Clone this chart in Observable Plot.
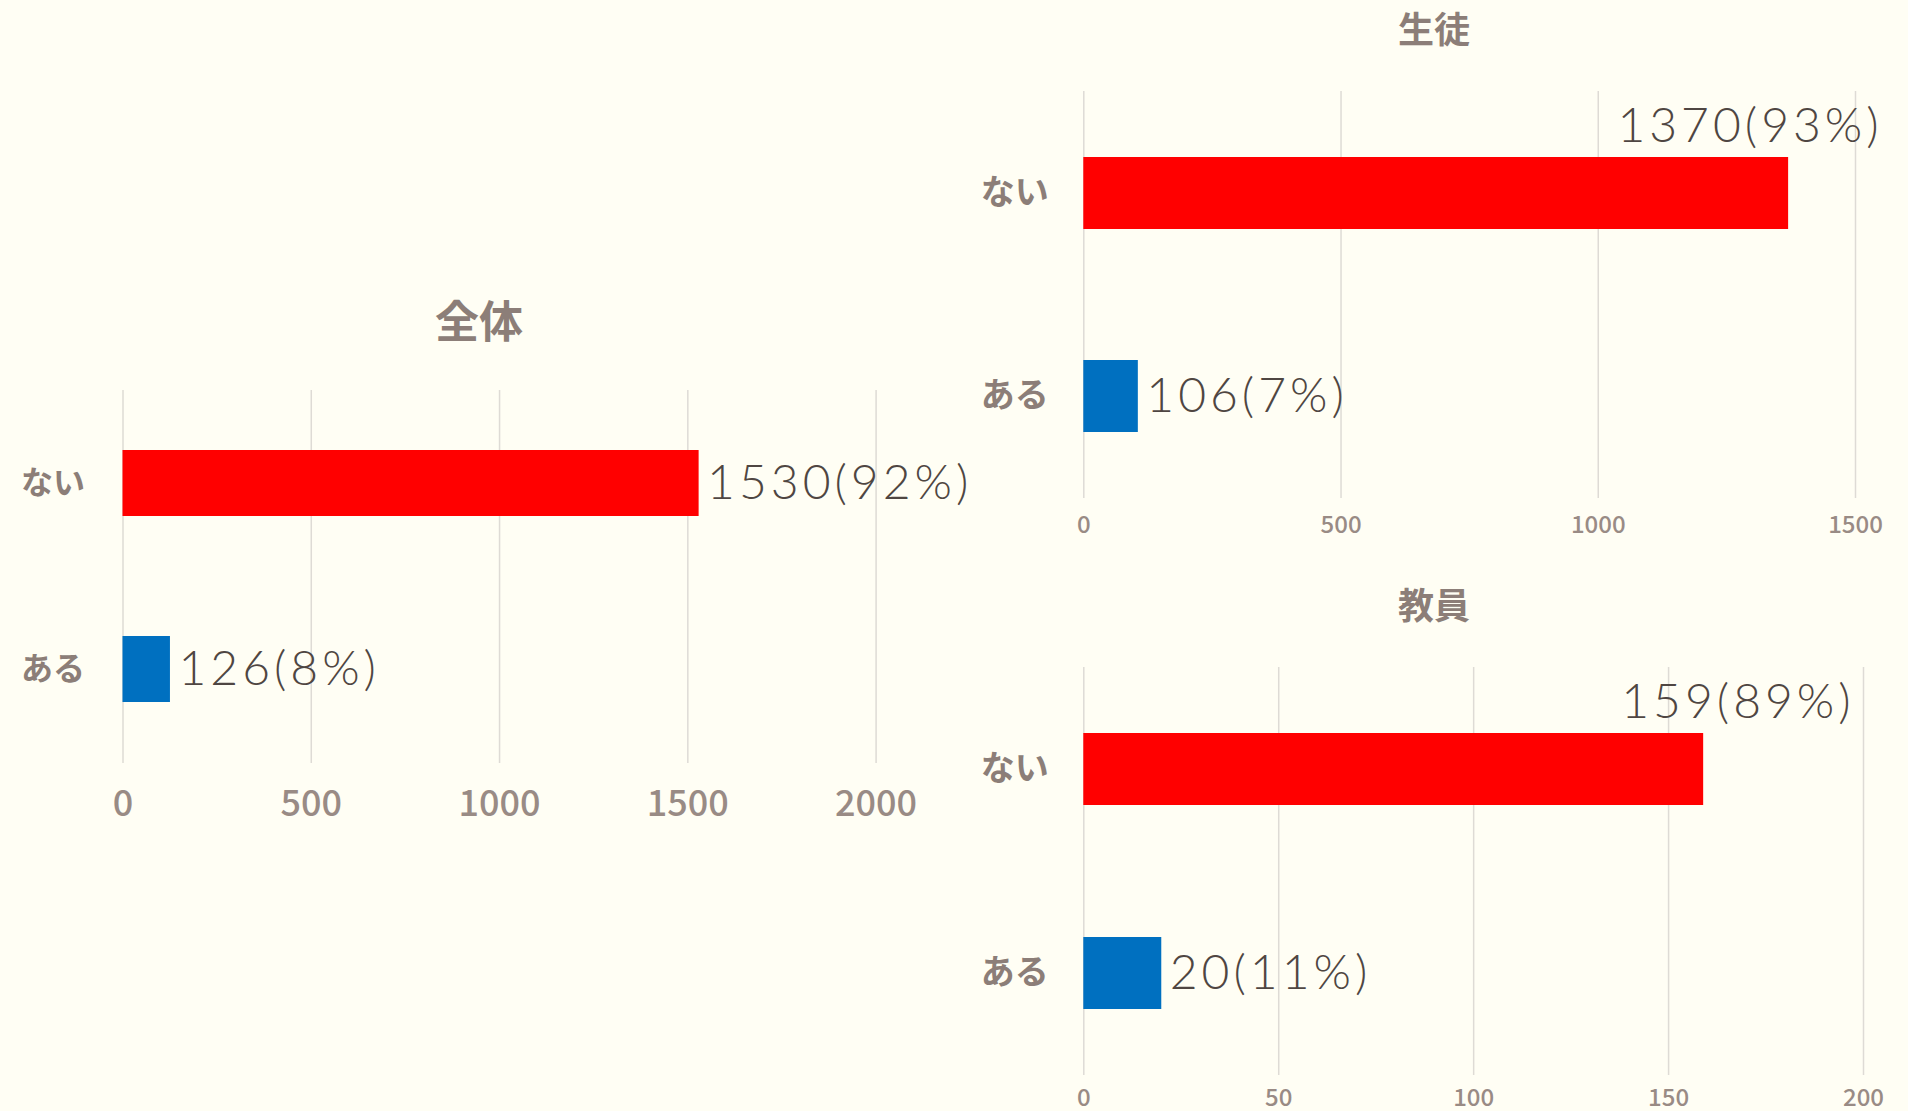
<!DOCTYPE html>
<html>
<head>
<meta charset="utf-8">
<script src="https://cdn.jsdelivr.net/npm/d3@7"></script>
<script src="https://cdn.jsdelivr.net/npm/@observablehq/plot@0.6"></script>
<style>
  html, body { margin: 0; padding: 0; background: #fffef4; }
  #page { position: relative; width: 1908px; height: 1111px; overflow: hidden; background: #fffef4; }
  .title { position: absolute; text-align: center; font-family: "Noto Sans CJK JP", sans-serif; font-weight: 700; color: #8c7e78; line-height: 1; }
  .panel { position: absolute; }
  .panel svg { background: transparent; overflow: visible; }
  g[aria-label="text"] text { letter-spacing: 4px; }
</style>
</head>
<body>
<div id="page"></div>
<script>
const categories = ["ない", "ある"];
const colors = ["#ff0000", "#0070c0"];
const titles = ["全体", "生徒", "教員"];

const totalValues = [1530, 126];
const totalPct = [92, 8];
const totalTicks = [0, 500, 1000, 1500, 2000];

const studentValues = [1370, 106];
const studentPct = [93, 7];
const studentTicks = [0, 500, 1000, 1500];

const teacherValues = [159, 20];
const teacherPct = [89, 11];
const teacherTicks = [0, 50, 100, 150, 200];

const page = document.getElementById("page");

function rows(values, pct) {
  return categories.map((c, i) => ({cat: c, value: values[i], pct: pct[i]}));
}
const label = d => `${d.value}(${d.pct}%)`;

function addTitle(text, left, width, top, size) {
  const t = document.createElement("div");
  t.className = "title";
  t.textContent = text;
  Object.assign(t.style, {left: left + "px", width: width + "px", top: top + "px", fontSize: size + "px"});
  page.appendChild(t);
}

function panel(cfg) {
  const data = rows(cfg.values, cfg.pct);
  const textFont = "Lato, 'Noto Sans', sans-serif";
  const marks = [
    Plot.gridX(cfg.ticks, {stroke: "#dedbd5", strokeOpacity: 1, strokeWidth: 1.5}),
    Plot.barX(data, {x: "value", y: "cat", fill: "cat"}),
    Plot.axisX({ticks: cfg.ticks, tickSize: 0, tickPadding: cfg.tickPadding, fontSize: cfg.tickSize, label: null,
      fill: "#998b85", fontWeight: 500, fontFamily: "'Noto Sans CJK JP', sans-serif", tickFormat: d => String(d)}),
    Plot.axisY({tickSize: 0, tickPadding: cfg.catPadding, fontSize: cfg.catSize, fill: "#8c7e78", label: null,
      fontWeight: 700, fontFamily: "'Noto Sans CJK JP', sans-serif"})
  ];
  if (cfg.aboveDx != null) {
    marks.push(Plot.text(data.filter(d => d.cat === categories[0]), {x: "value", y: "cat", text: label,
      textAnchor: "end", dx: cfg.aboveDx, dy: -67, fontSize: 48, fill: "#4f4642", fontFamily: textFont, fontWeight: 300}));
    marks.push(Plot.text(data.filter(d => d.cat !== categories[0]), {x: "value", y: "cat", text: label,
      textAnchor: "start", dx: 8, fontSize: 48, fill: "#4f4642", fontFamily: textFont, fontWeight: 300}));
  } else {
    marks.push(Plot.text(data, {x: "value", y: "cat", text: label,
      textAnchor: "start", dx: 8, fontSize: 48, fill: "#4f4642", fontFamily: textFont, fontWeight: 300}));
  }
  const chart = Plot.plot({
    width: cfg.width,
    height: cfg.height,
    marginTop: cfg.marginTop,
    marginBottom: cfg.marginBottom,
    marginLeft: cfg.marginLeft,
    marginRight: cfg.marginRight,
    style: {background: "transparent", overflow: "visible"},
    x: {domain: [cfg.ticks[0], cfg.ticks[cfg.ticks.length - 1]]},
    y: {domain: categories, paddingInner: 0.645, paddingOuter: 0.3225},
    color: {domain: categories, range: colors},
    marks
  });
  const wrap = document.createElement("div");
  wrap.className = "panel";
  wrap.style.left = cfg.left + "px";
  wrap.style.top = cfg.top + "px";
  wrap.appendChild(chart);
  page.appendChild(wrap);
}

// 全体
addTitle(titles[0], 0, 958, 297, 44);
panel({values: totalValues, pct: totalPct, ticks: totalTicks, left: 0, top: 370, width: 1000, height: 460,
  marginTop: 20, marginBottom: 67, marginLeft: 122.5, marginRight: 124.4, tickPadding: 27, tickSize: 36,
  catPadding: 38, catSize: 32});

// 生徒
addTitle(titles[1], 960, 948, 9, 36);
panel({values: studentValues, pct: studentPct, ticks: studentTicks, left: 960, top: 71, width: 948, height: 477,
  marginTop: 20, marginBottom: 50, marginLeft: 123.3, marginRight: 53, tickPadding: 17, tickSize: 24,
  catPadding: 35, catSize: 34, aboveDx: 94});

// 教員
addTitle(titles[2], 960, 948, 585, 36);
panel({values: teacherValues, pct: teacherPct, ticks: teacherTicks, left: 960, top: 647, width: 948, height: 460,
  marginTop: 20, marginBottom: 32, marginLeft: 123.3, marginRight: 45, tickPadding: 13, tickSize: 24,
  catPadding: 35, catSize: 34, aboveDx: 151});
</script>
</body>
</html>
